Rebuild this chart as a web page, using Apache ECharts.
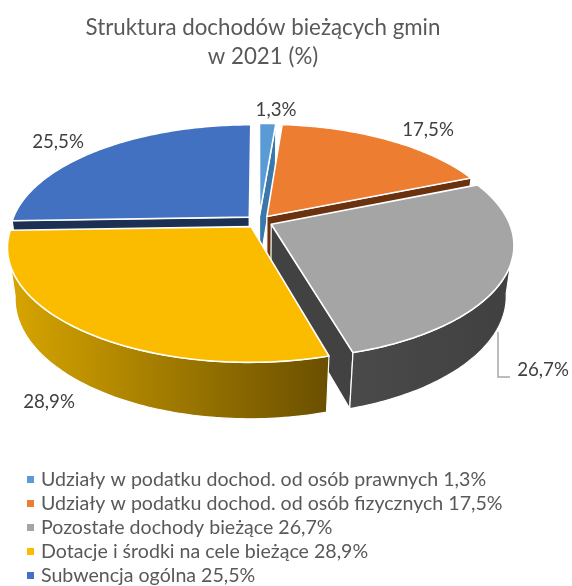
<!DOCTYPE html>
<html><head><meta charset="utf-8">
<style>html,body{margin:0;padding:0;background:#fff}#c{width:572px;height:586px}</style>
<script src="https://cdn.jsdelivr.net/npm/echarts@6/dist/echarts.min.js"></script>
</head><body><div id="c"></div>
<script>
const categories = [
  'Udziały w podatku dochod. od osób prawnych',
  'Udziały w podatku dochod. od osób fizycznych',
  'Pozostałe dochody bieżące',
  'Dotacje i środki na cele bieżące',
  'Subwencja ogólna'
];
const values = [1.3, 17.5, 26.7, 28.9, 25.5];
const titleLines = 'Struktura dochodów bieżących gmin\nw 2021 (%)';

const topColors = ['#5b9bd5', '#ed7d31', '#a5a5a5', '#fbbc00', '#4171c0'];
const faceColors = ['#3a78ab', '#6b3210', '#424242', '#7f6000', '#1c3054'];
const wallLeft = ['#3a78ab', '#6b3210', '#4a4a4a', '#d8a600', '#1c3054'];
const wallRight = ['#3a78ab', '#6b3210', '#404040', '#6a4f00', '#1c3054'];
const labelAt = [[276, 110], [428, 130], [543, 370], [49, 402], [58, 142]];

const total = values.reduce((a, b) => a + b, 0);
const fmt = v => v.toFixed(1).replace('.', ',') + '%';

// perspective projection of the pie disc
const CX = 259, CY = 221.5, RX = 237.5, RY = 110, K = 0.175, M = 0.03, H = 52, EXPL = 0.057;
const rad = d => d * Math.PI / 180;
function project(u, v, z) {
  const w = 1 + K * v + M * z;
  return [CX + RX * u / w, CY + (-RY * v + H * z) / w];
}
function angles(i) {
  let s = 0;
  for (let j = 0; j < i; j++) s += values[j];
  return [s / total * 360, (s + values[i]) / total * 360];
}
function rimPoint(i, deg, z) {
  const [a, b] = angles(i), m = rad((a + b) / 2);
  return project(EXPL * Math.sin(m) + Math.sin(rad(deg)), EXPL * Math.cos(m) + Math.cos(rad(deg)), z);
}
function apex(i, z) {
  const [a, b] = angles(i), m = rad((a + b) / 2);
  return project(EXPL * Math.sin(m), EXPL * Math.cos(m), z);
}
function arc(i, from, to, z) {
  const pts = [], n = Math.max(2, Math.ceil(Math.abs(to - from)));
  for (let k = 0; k <= n; k++) pts.push(rimPoint(i, from + (to - from) * k / n, z));
  return pts;
}
const cross = (o, p, q) => (p[0] - o[0]) * (q[1] - o[1]) - (p[1] - o[1]) * (q[0] - o[0]);
const white = { stroke: '#ffffff', lineWidth: 1.2, lineJoin: 'round' };

function renderSlice(params, api) {
  const i = params.seriesIndex;
  const [a, b] = angles(i);
  const kids = [];
  const poly = (points, fill, z2, extra) => kids.push({
    type: 'polygon', z2, shape: { points }, style: Object.assign({ fill }, white, extra || {})
  });
  // cut faces
  [[a, -1], [b, 1]].forEach(([deg, sign]) => {
    const A = apex(i, 0), E = rimPoint(i, deg, 0), F = rimPoint(i, deg, 1), B = apex(i, 1);
    if (cross(A, E, F) * sign > 0) poly([A, E, F, B], faceColors[i], 1);
  });
  // outer wall: the camera-facing part only
  const lo = Math.max(a, 99), hi = Math.min(b, 261);
  if (hi > lo) {
    const top = arc(i, lo, hi, 0), bot = arc(i, hi, lo, 1), pts = top.concat(bot);
    const xs = pts.map(p => p[0]);
    poly(pts, {
      type: 'linear', global: true,
      x: Math.min.apply(null, xs), y: 0, x2: Math.max.apply(null, xs), y2: 0,
      colorStops: [{ offset: 0, color: wallLeft[i] }, { offset: 1, color: wallRight[i] }]
    }, 2);
  }
  // top surface
  poly([apex(i, 0)].concat(arc(i, a, b, 0)), topColors[i], 3, { lineWidth: 1.6 });
  // value label
  kids.push({
    type: 'text', z2: 5, x: labelAt[i][0], y: labelAt[i][1],
    style: { text: fmt(api.value(0)), font: '18.7px Lato', fill: '#404040', align: 'center', verticalAlign: 'middle' }
  });
  return { type: 'group', children: kids };
}

const depth = values.map((_, i) => { const [a, b] = angles(i); return Math.cos(rad((a + b) / 2)); });
const order = depth.map((d, i) => [d, i]).sort((p, q) => q[0] - p[0]).map(p => p[1]);

const chart = echarts.init(document.getElementById('c'), null, { renderer: 'canvas' });
chart.setOption({
  animation: false,
  backgroundColor: '#ffffff',
  title: {
    text: titleLines, left: 258, top: 8, textAlign: 'center',
    textStyle: { fontFamily: 'Lato', fontSize: 22.3, fontWeight: 'normal', color: '#595959', lineHeight: 29 }
  },
  legend: {
    orient: 'vertical', left: 27, top: 469, height: 117, width: 540, padding: 0, itemWidth: 7, itemHeight: 7, itemGap: 3,
    selectedMode: false, icon: 'rect',
    textStyle: { fontFamily: 'Lato', fontSize: 19.6, color: '#595959', padding: [0, 0, 0, 2], lineHeight: 21 },
    data: categories.map((c, i) => ({ name: c + ' ' + fmt(values[i]) }))
  },
  graphic: [{
    type: 'polyline', z: 20, silent: true,
    shape: { points: [[498, 332], [498, 377], [510, 377]] },
    style: { stroke: '#a6a6a6', lineWidth: 1.5, fill: null }
  }],
  series: categories.map((c, i) => ({
    type: 'custom', name: c + ' ' + fmt(values[i]), coordinateSystem: 'none', silent: true,
    z: 2 + order.indexOf(i),
    itemStyle: { color: topColors[i] },
    renderItem: renderSlice,
    data: [[values[i]]]
  }))
});
</script></body></html>
